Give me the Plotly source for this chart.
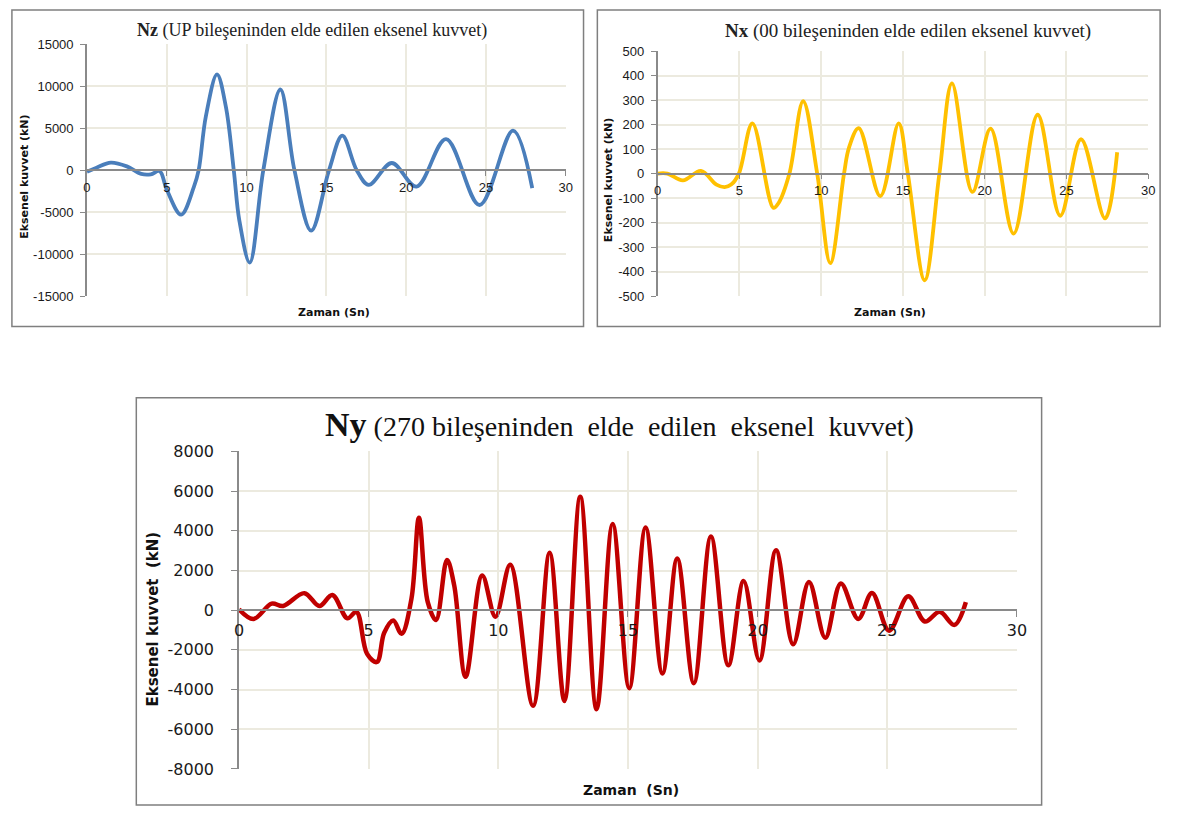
import plotly.graph_objects as go

# --- Nz: axial force from the UP component ---
nz_t = [0.0, 0.6, 1.5, 2.5, 3.4, 4.0, 4.55, 5.0, 5.9, 6.7, 7.0, 7.45, 8.15, 8.7, 9.2, 9.55, 10.2,
        11.05, 12.12, 13.0, 14.05, 15.17, 16.0, 16.9, 17.65, 19.1, 20.65, 22.5, 24.6, 26.7, 27.9]
nz_v = [-200, 300, 900, 450, -450, -500, -100, -2300, -5300, -2000, 0, 6400, 11400, 7600, 0, -6000, -11000,
        0, 9600, 0, -7200, 0, 4100, 0, -1750, 850, -1950, 3700, -4150, 4700, -2150]

# --- Nx: axial force from the 00 component ---
nx_t = [0.0, 0.6, 1.55, 2.65, 3.6, 4.1, 4.5, 4.97, 5.8, 7.08, 7.4, 8.06, 8.9, 9.76, 10.56, 11.4, 11.7,
        12.3, 13.62, 14.74, 15.3, 16.33, 17.23, 18.0, 19.25, 20.36, 21.77, 23.24, 24.62, 25.89, 27.36, 28.1]
nx_v = [0, 0, -28, 11, -45, -55, -45, 0, 205, -140, -120, 0, 295, 0, -365, 0, 105,
        185, -92, 205, 0, -435, 0, 368, -75, 183, -245, 240, -172, 140, -183, 87]

# --- Ny: axial force from the 270 component ---
ny_t = [0.0, 0.56, 1.26, 1.7, 2.52, 3.1, 3.6, 4.18, 4.53, 4.94, 5.32, 5.6, 5.95, 6.27, 6.65, 6.94, 7.28,
        7.6, 8.02, 8.3, 8.74, 9.38, 9.89, 10.46, 11.34, 11.98, 12.55, 13.16, 13.79, 14.41, 15.05, 15.68,
        16.33, 16.9, 17.54, 18.2, 18.87, 19.46, 20.07, 20.71, 21.37, 21.98, 22.61, 23.21, 23.88, 24.41,
        25.07, 25.81, 26.45, 27.02, 27.59, 28.03]
ny_v = [50, -440, 330, 210, 860, 210, 770, -410, -80, -2200, -2610, -1140, -520, -1190, 570, 4660, 410,
        -490, 2530, 1250, -3350, 1750, -330, 2290, -4820, 2890, -4570, 5720, -4990, 4350, -3930, 4170,
        -3190, 2610, -3680, 3710, -2780, 1470, -2530, 3020, -1720, 1420, -1390, 1350, -440, 865,
        -1030, 700, -570, -80, -740, 410]

x_ticks = [0, 5, 10, 15, 20, 25, 30]
nz_ticks = [15000, 10000, 5000, 0, -5000, -10000, -15000]
nx_ticks = [500, 400, 300, 200, 100, 0, -100, -200, -300, -400, -500]
ny_ticks = [8000, 6000, 4000, 2000, 0, -2000, -4000, -6000, -8000]

W, H = 1177, 818
GRID = "#ECEADF"
AXIS = "#8A8A8A"


def px(x):
    return x / W


def py(y):
    return 1 - y / H


fig = go.Figure()

panels = [
    # name, t, v, y ticks, colour, line width, plot box (x0, x1, y0, y1) px, tick font, tick len, label gap
    ("1", nz_t, nz_v, nz_ticks, "#4A7EBB", 3.8, (83, 568, 36, 294), ("Liberation Sans", 13), 5, 4),
    ("2", nx_t, nx_v, nx_ticks, "#FFC000", 3.8, (661, 1158, 43, 294), ("Liberation Sans", 13), 5, 4),
    ("3", ny_t, ny_v, ny_ticks, "#C00000", 4.5, (237, 1025, 453, 778), ("DejaVu Sans", 16), 6, 14),
]

layout = {}
for name, t, v, yt, col, lw, (x0, x1, y0, y1), (ff, fs), tl, gap in panels:
    xa = "x" if name == "1" else "x" + name
    ya = "y" if name == "1" else "y" + name
    fig.add_trace(go.Scatter(x=t, y=v, mode="lines", xaxis=xa, yaxis=ya,
                             line=dict(color=col, width=lw, shape="spline", smoothing=1.0),
                             showlegend=False, hoverinfo="skip"))
    ydom = [py(y1), py(y0)]
    tickfont = dict(family=ff, size=fs, color="#1A1A1A")
    layout["xaxis" + ("" if name == "1" else name)] = dict(
        domain=[px(x0), px(x1)], range=[0, 30], tickvals=x_ticks, ticktext=[str(k) for k in x_ticks],
        anchor="free", position=(ydom[0] + ydom[1]) / 2, showline=True, linecolor=AXIS, linewidth=1.5,
        ticks="outside", ticklen=tl, tickcolor=AXIS, showgrid=True, gridcolor=GRID, gridwidth=1.5,
        zeroline=False, tickfont=tickfont, fixedrange=True,
    )
    layout["yaxis" + ("" if name == "1" else name)] = dict(
        domain=ydom, range=[yt[-1], yt[0]], tickvals=yt, ticktext=[str(k) for k in yt],
        anchor=xa, showline=True, linecolor=AXIS, linewidth=1.5, ticks="outside", ticklen=tl,
        tickcolor=AXIS, showgrid=True, gridcolor=GRID, gridwidth=1.5, zeroline=False,
        tickfont=tickfont, ticklabelstandoff=gap, fixedrange=True,
    )

fig.update_layout(**layout)

NB = "\u00a0"
annotations = [
    # titles
    dict(x=px(311), y=py(22), text="<b>Nz</b> (UP bileşeninden elde edilen eksenel kuvvet)",
         font=dict(family="Liberation Serif", size=18, color="#222")),
    dict(x=px(915), y=py(23), text="<b>Nx</b> (00 bileşeninden elde edilen eksenel kuvvet)",
         font=dict(family="Liberation Serif", size=19, color="#222")),
    dict(x=px(622), y=py(425),
         text="<b><span style='font-size:34px'>Ny</span></b> (270 bileşeninden" + NB + " elde" + NB
              + " edilen" + NB + " eksenel" + NB + " kuvvet)",
         font=dict(family="Liberation Serif", size=28, color="#111")),
    # axis titles
    dict(x=px(19), y=py(172), text="<b>Eksenel kuvvet (kN)</b>", textangle=-90,
         font=dict(family="DejaVu Sans", size=11, color="#111")),
    dict(x=px(612), y=py(175), text="<b>Eksenel kuvvet (kN)</b>", textangle=-90,
         font=dict(family="DejaVu Sans", size=11, color="#111")),
    dict(x=px(150), y=py(625), text="<b>Eksenel kuvvet" + NB + " (kN)</b>", textangle=-90,
         font=dict(family="DejaVu Sans", size=15, color="#111")),
    dict(x=px(333), y=py(311), text="<b>Zaman (Sn)</b>",
         font=dict(family="DejaVu Sans", size=11, color="#111")),
    dict(x=px(896), y=py(311), text="<b>Zaman (Sn)</b>",
         font=dict(family="DejaVu Sans", size=11, color="#111")),
    dict(x=px(634), y=py(800), text="<b>Zaman" + NB + " (Sn)</b>",
         font=dict(family="DejaVu Sans", size=14, color="#111")),
]
for a in annotations:
    a.update(xref="paper", yref="paper", showarrow=False, xanchor="center", yanchor="middle")

# panel frames
frames = [(7, 586, 1, 325), (600, 1170, 1, 325), (133, 1050, 398, 815)]
shapes = [dict(type="rect", xref="paper", yref="paper", x0=px(a), x1=px(b), y0=py(d), y1=py(c),
               line=dict(color="#7F7F7F", width=1.5), layer="below") for a, b, c, d in frames]

fig.update_layout(width=W, height=H, autosize=False, margin=dict(l=0, r=0, t=0, b=0),
                  paper_bgcolor="white", plot_bgcolor="white",
                  annotations=annotations, shapes=shapes)

fig.write_html("out.html", config={"displayModeBar": False})
